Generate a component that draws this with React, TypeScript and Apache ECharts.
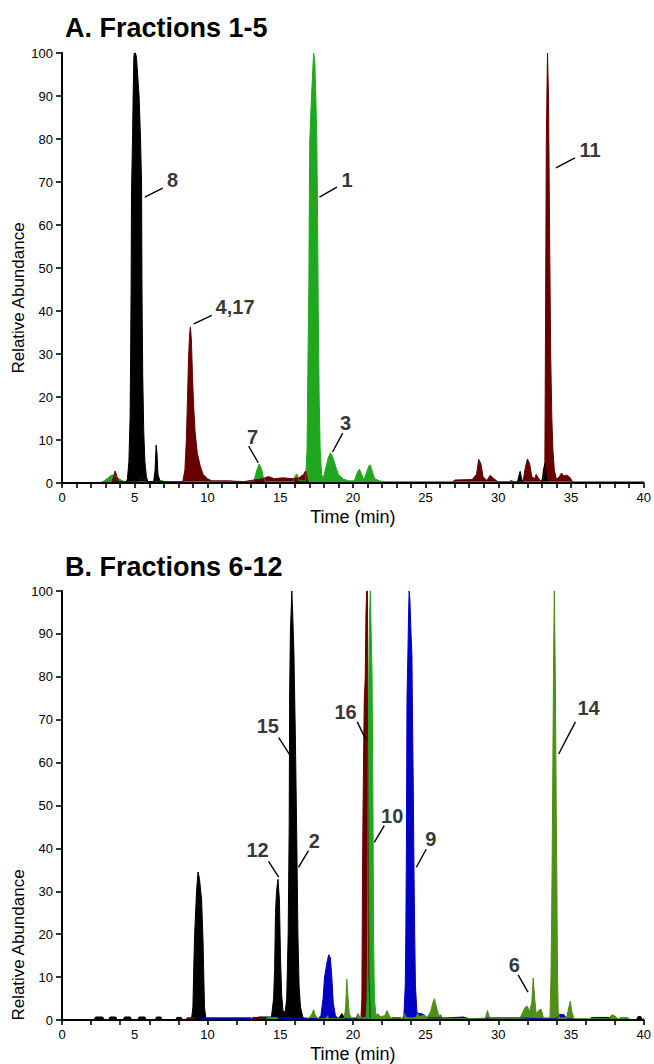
import React, { useEffect, useRef } from "react";
import * as echarts from "echarts";

type P = [number, number];

// ---------- Panel A: Fractions 1-5 ----------
const traceA_green: P[] = [
  [0, 0], [2.6, 0], [2.9, 0.5], [3.2, 1.3], [3.45, 1.9], [3.7, 1.5], [4.0, 0.8], [4.3, 0.3],
  [6.6, 0.3], [6.8, 0.6], [7.1, 0.3], [12.5, 0.3], [13.2, 0.5], [13.4, 3], [13.55, 4.4], [13.7, 3.5],
  [13.85, 1.2], [14.0, 0.3], [15.9, 0.3], [16.05, 1.8], [16.15, 2.1], [16.3, 0.5], [16.75, 0.5],
  [16.85, 8], [16.9, 25], [16.97, 45], [17.03, 79], [17.13, 88], [17.2, 93], [17.3, 100], [17.38, 98],
  [17.45, 90], [17.52, 80], [17.57, 62], [17.62, 40], [17.68, 20], [17.75, 8], [17.85, 2], [17.95, 1],
  [18.1, 3], [18.3, 5.8], [18.45, 7], [18.6, 6.2], [18.8, 4], [19.0, 2], [19.3, 1], [19.7, 0.5],
  [20.1, 0.5], [20.3, 2.5], [20.45, 3.2], [20.6, 2], [20.75, 0.8], [20.9, 2], [21.1, 4], [21.2, 4.2],
  [21.35, 2.5], [21.5, 1], [21.8, 0.5], [22.2, 0.3], [40, 0.3],
];
const traceA_red: P[] = [
  [0, 0], [3.4, 0], [3.55, 1.5], [3.65, 2.8], [3.75, 1.8], [3.9, 0.3], [5.3, 0.3], [5.45, 1.5],
  [5.6, 1.2], [5.8, 0.3], [8.3, 0.3], [8.45, 3], [8.55, 10], [8.63, 20], [8.7, 29], [8.78, 35],
  [8.83, 36.3], [8.9, 33], [8.97, 25], [9.05, 18], [9.15, 12], [9.3, 7], [9.5, 4], [9.7, 2], [10.0, 1],
  [10.3, 0.5], [11.5, 0.5], [12.5, 0.3], [13.0, 0.6], [13.8, 1], [14.2, 1.5], [14.6, 1], [15.2, 1.2],
  [15.8, 1], [16.3, 1.2], [16.6, 2], [16.75, 2.8], [16.9, 0.5], [17.0, 0], [26.8, 0], [27.0, 0.7],
  [28.2, 0.8], [28.5, 2], [28.65, 5.5], [28.8, 4.5], [28.95, 1.5], [29.2, 0.6], [29.45, 1.8], [29.7, 1],
  [30.0, 0.2], [30.7, 0.2], [30.9, 0.6], [31.1, 0.2], [31.7, 0.3], [31.85, 3.5], [32.0, 5.6],
  [32.15, 4.5], [32.3, 1.5], [32.5, 1], [32.6, 2], [32.75, 1.2], [32.9, 0.5], [33.1, 1], [33.2, 5],
  [33.25, 40], [33.3, 80], [33.38, 100], [33.45, 90], [33.52, 60], [33.6, 30], [33.68, 15], [33.75, 8],
  [33.85, 3], [34.0, 0.8], [34.2, 1.5], [34.35, 2.3], [34.5, 1.6], [34.7, 1.8], [34.9, 1.4], [35.1, 0.3],
  [35.3, 0], [40, 0],
];
const traceA_black: P[] = [
  [0, 0], [4.4, 0], [4.5, 1], [4.6, 5], [4.68, 15], [4.72, 30], [4.75, 45], [4.78, 68], [4.85, 80],
  [4.89, 90], [4.94, 99], [4.97, 100], [5.05, 100], [5.12, 99], [5.2, 95], [5.3, 90], [5.4, 80],
  [5.47, 70], [5.5, 45], [5.55, 25], [5.62, 12], [5.7, 5], [5.8, 1.5], [5.9, 0.3], [6.3, 0.3],
  [6.4, 3], [6.47, 8.8], [6.53, 7], [6.6, 2], [6.75, 0.3], [6.9, 0], [31.3, 0], [31.4, 1.5],
  [31.5, 2.7], [31.6, 1], [31.7, 0], [33.0, 0], [33.1, 3], [33.2, 4.5], [33.3, 2], [33.4, 0], [40, 0],
];

// ---------- Panel B: Fractions 6-12 ----------
const traceB_black: P[] = [
  [0, 0], [2.2, 0], [2.3, 0.7], [2.8, 0.7], [2.9, 0], [3.2, 0], [3.3, 0.7], [3.7, 0.7], [3.8, 0],
  [4.2, 0], [4.3, 0.7], [4.7, 0.7], [4.8, 0], [5.2, 0], [5.3, 0.7], [5.7, 0.7], [5.8, 0], [6.4, 0],
  [6.5, 0.7], [6.8, 0.7], [6.9, 0], [7.8, 0], [7.9, 0.6], [8.2, 0.6], [8.3, 0], [8.9, 0], [9.0, 3],
  [9.08, 15], [9.12, 20], [9.25, 30], [9.35, 34.5], [9.45, 33], [9.6, 28], [9.7, 18], [9.75, 10],
  [9.8, 3], [9.9, 0], [13.4, 0], [13.5, 0.7], [14.4, 0.7], [14.55, 5], [14.62, 12], [14.68, 25],
  [14.75, 30], [14.85, 32.8], [14.95, 28], [15.02, 15], [15.1, 6], [15.2, 2], [15.35, 2], [15.45, 5],
  [15.55, 20], [15.62, 45], [15.65, 75], [15.7, 90], [15.8, 100], [15.86, 95], [15.95, 85], [16.05, 65],
  [16.15, 40], [16.22, 20], [16.3, 8], [16.4, 3], [16.55, 0.8], [16.7, 0], [18.9, 0], [19.1, 0.8],
  [19.25, 1.5], [19.4, 0.6], [19.6, 0], [20.0, 0], [20.1, 0.5], [20.4, 0], [36.8, 0], [36.9, 0.6],
  [37.6, 0.6], [37.7, 0], [39.5, 0], [39.6, 0.8], [39.8, 0.8], [39.9, 0], [40, 0],
];
const traceB_red: P[] = [
  [0, 0], [8.5, 0], [8.6, 0.5], [9.1, 0.5], [9.2, 0], [13.0, 0], [13.1, 0.6], [13.9, 0.6], [14.0, 0],
  [20.55, 0], [20.62, 5], [20.66, 33], [20.7, 50], [20.78, 74], [20.85, 80], [20.9, 95], [20.95, 100],
  [21.0, 100], [21.05, 60], [21.1, 10], [21.2, 0], [22.6, 0], [22.7, 0.5], [23.3, 0.5], [23.4, 0], [40, 0],
];
const traceB_blue: P[] = [
  [0, 0], [9.5, 0], [9.6, 0.5], [13.0, 0.5], [13.1, 0], [14.9, 0], [15.0, 0.5], [16.5, 0.5],
  [17.6, 0.3], [17.8, 1], [17.95, 5], [18.05, 10], [18.15, 12], [18.25, 14], [18.35, 15.2],
  [18.45, 14.5], [18.55, 10], [18.65, 4], [18.8, 1], [19.0, 0.3], [23.4, 0], [23.5, 0.5], [23.6, 8],
  [23.64, 20], [23.68, 40], [23.72, 75], [23.78, 85], [23.83, 95], [23.87, 100], [23.92, 98],
  [24.0, 90], [24.06, 85], [24.1, 70], [24.15, 55], [24.2, 35], [24.25, 20], [24.3, 8], [24.4, 2],
  [24.5, 1.5], [24.7, 1.5], [24.9, 1.2], [25.1, 0.5], [26.5, 0.5], [27.6, 0.7], [28.0, 0.3],
  [30.0, 0.5], [31.5, 0.5], [32.8, 0.3], [34.0, 0.3], [34.2, 1.3], [34.5, 1.3], [34.7, 0.3],
  [36.3, 0], [36.4, 0.6], [37.0, 0.6], [37.1, 0], [40, 0],
];
const traceB_olive: P[] = [
  [0, 0], [16.8, 0], [17.0, 0.5], [17.2, 1.5], [17.3, 2.4], [17.4, 1.2], [17.6, 0.3], [18.1, 0.3],
  [18.25, 1], [18.35, 0.3], [19.4, 0.3], [19.5, 3], [19.58, 9.5], [19.65, 6], [19.75, 1.5], [19.9, 0.5],
  [20.2, 0.5], [20.35, 1.5], [20.5, 0.5], [21.5, 0.5], [21.7, 1.5], [21.9, 0.8], [22.2, 1], [22.35, 2.2],
  [22.5, 1], [22.7, 0.3], [23.4, 0.3], [23.55, 1.5], [23.7, 0.5], [24.3, 0.5], [24.45, 1.5], [24.6, 0.8],
  [24.9, 1.2], [25.1, 0.5], [25.35, 2], [25.5, 4], [25.6, 5], [25.75, 3], [25.9, 1], [26.05, 1.2],
  [26.2, 0.3], [29.1, 0.3], [29.25, 2.2], [29.4, 0.5], [31.5, 0.5], [31.7, 2], [31.85, 3], [32.0, 3.2],
  [32.15, 2], [32.3, 4], [32.4, 9.8], [32.5, 5], [32.6, 1.5], [32.8, 2.3], [32.95, 2.5], [33.1, 0.5],
  [33.55, 0.5], [33.62, 10], [33.66, 22], [33.7, 37], [33.75, 60], [33.8, 85], [33.85, 100],
  [33.92, 80], [33.98, 50], [34.03, 30], [34.07, 10], [34.12, 2], [34.2, 0.5], [34.7, 0.5], [34.85, 3],
  [34.95, 4.4], [35.05, 2], [35.2, 0.3], [37.6, 0.3], [37.8, 1.2], [38.0, 1], [38.2, 0.3], [40, 0],
];
const traceB_green: P[] = [
  [0, 0], [14.0, 0], [14.1, 0.6], [14.8, 0.6], [14.9, 0], [20.9, 0], [20.98, 5], [21.03, 30],
  [21.05, 60], [21.1, 80], [21.15, 95], [21.2, 100], [21.26, 90], [21.32, 80], [21.38, 50], [21.42, 20],
  [21.48, 5], [21.6, 0.5], [21.7, 0], [38.3, 0], [38.4, 0.6], [38.9, 0.6], [39.0, 0], [39.9, 0], [40, 0.5],
];

// ---------- Peak annotations (label, leader line from -> to, label anchor) ----------
type Ann = { label: string; from: P; to: P; at: P };
const annotationsA: Ann[] = [
  { label: "8", from: [5.69, 66.5], to: [6.93, 68.6], at: [7.6, 70.5] },
  { label: "1", from: [17.7, 66.5], to: [18.9, 68.8], at: [19.6, 70.5] },
  { label: "4,17", from: [9.06, 37], to: [10.3, 39], at: [11.9, 41] },
  { label: "7", from: [13.5, 4.65], to: [12.83, 8.6], at: [13.1, 10.8] },
  { label: "3", from: [18.6, 7.2], to: [19.3, 11.6], at: [19.5, 14] },
  { label: "11", from: [33.96, 73.3], to: [35.27, 75.6], at: [36.3, 77.4] },
];
const annotationsB: Ann[] = [
  { label: "15", from: [15.64, 61.9], to: [14.9, 65.8], at: [14.15, 68.6] },
  { label: "16", from: [20.9, 65.3], to: [20.3, 69.5], at: [19.5, 71.8] },
  { label: "12", from: [14.9, 33.3], to: [14.2, 37], at: [13.45, 39.6] },
  { label: "2", from: [16.26, 35.6], to: [16.95, 39.5], at: [17.35, 41.7] },
  { label: "10", from: [21.47, 41.4], to: [22.16, 45.3], at: [22.7, 47.5] },
  { label: "9", from: [24.36, 35.6], to: [25.04, 39.8], at: [25.35, 42.2] },
  { label: "6", from: [32.04, 6.5], to: [31.36, 10.5], at: [31.1, 12.9] },
  { label: "14", from: [34.15, 62], to: [35.3, 69.5], at: [36.2, 72.8] },
];

// ---------- Axis ticks / labels ----------
const xLabelValues = [0, 5, 10, 15, 20, 25, 30, 35, 40];
const xTickValuesA = Array.from({ length: 41 }, (_, i) => i);
const xTickValuesB = Array.from({ length: 21 }, (_, i) => i * 2);
const titles = ["A. Fractions 1-5", "B. Fractions 6-12"];
const yName = "Relative Abundance";

const COLORS = {
  black: "#000000",
  red: "#680000",
  green: "#1fa81f",
  blue: "#0000c4",
  olive: "#4f8e17",
};

const FONT = "'Liberation Sans', Arial, Helvetica, sans-serif";

function traceSeries(data: P[], color: string, gi: number) {
  return {
    type: "line",
    xAxisIndex: gi,
    yAxisIndex: gi,
    data,
    symbol: "none",
    showSymbol: false,
    silent: true,
    lineStyle: { color, width: 1 },
    itemStyle: { color },
    areaStyle: { color, opacity: 1, origin: "start" },
    z: 2,
  };
}

function annSeries(anns: Ann[], gi: number) {
  return [
    {
      type: "lines",
      coordinateSystem: "cartesian2d",
      xAxisIndex: gi,
      yAxisIndex: gi,
      silent: true,
      symbol: "none",
      data: anns.map((a) => ({ coords: [a.from, a.to] })),
      lineStyle: { color: "#000", width: 1.4, opacity: 1, type: "solid" },
      z: 6,
    },
    {
      type: "scatter",
      xAxisIndex: gi,
      yAxisIndex: gi,
      silent: true,
      symbol: "circle",
      symbolSize: 1,
      itemStyle: { color: "rgba(0,0,0,0)" },
      data: anns.map((a) => [a.at[0], a.at[1], a.label]),
      label: {
        show: true,
        position: "inside",
        formatter: (p: any) => p.data[2],
        fontSize: 20,
        fontWeight: "bold",
        fontFamily: FONT,
        color: "#000",
      },
      z: 7,
    },
  ];
}

function xAxisFor(gi: number, ticks: number[]) {
  return {
    type: "value",
    gridIndex: gi,
    min: 0,
    max: 40,
    name: "Time (min)",
    nameLocation: "middle",
    nameGap: 25,
    nameTextStyle: { fontSize: 18, fontFamily: FONT, color: "#000" },
    axisLine: { show: true, onZero: false, lineStyle: { color: "#000", width: 2 } },
    axisTick: { show: true, length: 5, customValues: ticks, lineStyle: { color: "#000", width: 1.6 } },
    axisLabel: { customValues: xLabelValues, fontSize: 13, fontFamily: FONT, color: "#000", margin: 8 },
    splitLine: { show: false },
    z: 10,
  };
}

function yAxisFor(gi: number) {
  return {
    type: "value",
    gridIndex: gi,
    min: 0,
    max: 100,
    interval: 10,
    axisLine: { show: true, lineStyle: { color: "#000", width: 2 } },
    axisTick: { show: true, length: 6, lineStyle: { color: "#000", width: 1.6 } },
    axisLabel: { fontSize: 13, fontFamily: FONT, color: "#000", margin: 9 },
    splitLine: { show: false },
    z: 10,
  };
}

function yNameText(cy: number) {
  return {
    type: "text",
    x: 18,
    y: cy,
    rotation: Math.PI / 2,
    style: {
      text: yName,
      fontSize: 17,
      fontFamily: FONT,
      fill: "#000",
      align: "center",
      verticalAlign: "middle",
    },
  };
}

export default function App() {
  const ref = useRef<HTMLDivElement>(null);
  useEffect(() => {
    document.body.style.margin = "0";
    if (!ref.current) return;
    const chart = echarts.init(ref.current, undefined, { renderer: "svg" });
    chart.setOption({
      animation: false,
      backgroundColor: "#ffffff",
      title: [
        { text: titles[0], left: 60, top: 9, textStyle: { fontSize: 27, fontWeight: "bold", fontFamily: FONT, color: "#000" } },
        { text: titles[1], left: 60, top: 548, textStyle: { fontSize: 27, fontWeight: "bold", fontFamily: FONT, color: "#000" } },
      ],
      graphic: [yNameText(298), yNameText(945)],
      grid: [
        { left: 62, right: 9, top: 53, height: 430 },
        { left: 62, right: 9, top: 591, height: 430 },
      ],
      xAxis: [xAxisFor(0, xTickValuesA), xAxisFor(1, xTickValuesB)],
      yAxis: [yAxisFor(0), yAxisFor(1)],
      series: [
        traceSeries(traceA_green, COLORS.green, 0),
        traceSeries(traceA_red, COLORS.red, 0),
        traceSeries(traceA_black, COLORS.black, 0),
        ...annSeries(annotationsA, 0),
        traceSeries(traceB_black, COLORS.black, 1),
        traceSeries(traceB_red, COLORS.red, 1),
        traceSeries(traceB_blue, COLORS.blue, 1),
        traceSeries(traceB_olive, COLORS.olive, 1),
        traceSeries(traceB_green, COLORS.green, 1),
        ...annSeries(annotationsB, 1),
      ],
    });
    return () => chart.dispose();
  }, []);
  return <div ref={ref} style={{ width: 654, height: 1064 }} />;
}
